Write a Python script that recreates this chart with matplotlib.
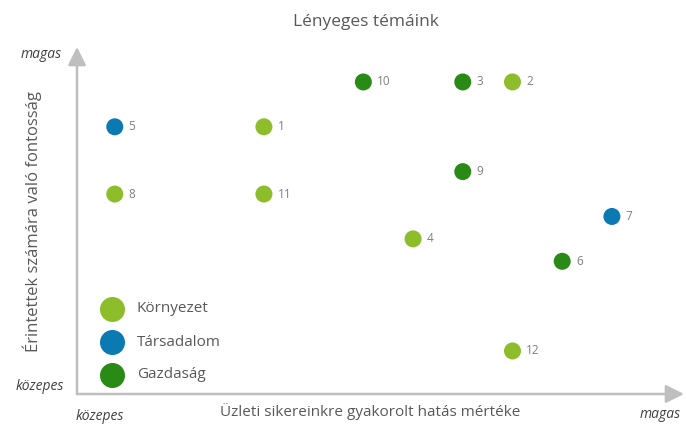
import matplotlib.pyplot as plt

# topic id, impact on business (x), importance to stakeholders (y), group
topics = ["1", "2", "3", "4", "5", "6", "7", "8", "9", "10", "11", "12"]
impact = [4, 9, 8, 7, 1, 10, 11, 1, 8, 6, 4, 9]
importance = [12, 14, 14, 7, 12, 6, 8, 9, 10, 14, 9, 2]
groups = ["Környezet", "Környezet", "Gazdaság", "Környezet", "Társadalom", "Gazdaság",
          "Társadalom", "Környezet", "Gazdaság", "Gazdaság", "Környezet", "Környezet"]

group_names = ["Környezet", "Társadalom", "Gazdaság"]
group_colors = {"Környezet": "#8DBD2A", "Társadalom": "#0B7AB3", "Gazdaság": "#2A8A16"}

W, H = 686, 425
plt.rcParams["font.family"] = ["Open Sans", "DejaVu Sans"]

fig = plt.figure(figsize=(W / 100, H / 100), dpi=100)
# plot area: from the axis origin to the arrow tips
ax = fig.add_axes([77 / W, (H - 394) / H, (684 - 77) / W, (394 - 47) / H])
ax.set_xlim(0.24, 12.45)
ax.set_ylim(0.08, 15.56)
ax.axis("off")

axis_col = "#BFBFBF"
text_col = "#595959"

# axis arrows
ax.annotate("", xy=(1, 0), xytext=(0, 0), xycoords="axes fraction",
            arrowprops=dict(arrowstyle="-|>,head_length=1.1,head_width=0.55",
                            color=axis_col, lw=1.8, shrinkA=0, shrinkB=0))
ax.annotate("", xy=(0, 1), xytext=(0, 0), xycoords="axes fraction",
            arrowprops=dict(arrowstyle="-|>,head_length=1.1,head_width=0.55",
                            color=axis_col, lw=1.8, shrinkA=0, shrinkB=0))

for t, x, y, g in zip(topics, impact, importance, groups):
    ax.scatter(x, y, s=150, color=group_colors[g], edgecolors="none", zorder=3)
    ax.annotate(t, (x, y), xytext=(10, 0), textcoords="offset points",
                va="center", ha="left", fontsize=8.5, color="#7F7F7F")

# legend drawn as big markers with labels
for i, g in enumerate(group_names):
    ly = 309 + 33 * i
    fig.add_artist(plt.Line2D([112 / W], [(H - ly) / H], marker="o", markersize=17,
                              color=group_colors[g], linestyle="none"))
    fig.text(137 / W, (H - ly) / H, g, fontsize=11, color=text_col, va="center", ha="left")

fig.text(366 / W, (H - 22) / H, "Lényeges témáink", fontsize=12.5, color=text_col,
         ha="center", va="center")
fig.text(370 / W, (H - 412) / H, "Üzleti sikereinkre gyakorolt hatás mértéke", fontsize=11,
         color=text_col, ha="center", va="center")
fig.text(32 / W, (H - 222) / H, "Érintettek számára való fontosság", fontsize=12,
         color=text_col, ha="center", va="center", rotation=90)

small = dict(fontsize=10, style="italic", color="#404040", va="center")
fig.text(62 / W, (H - 55) / H, "magas", ha="right", **small)
fig.text(64 / W, (H - 386) / H, "közepes", ha="right", **small)
fig.text(100 / W, (H - 416) / H, "közepes", ha="center", **small)
fig.text(660 / W, (H - 415) / H, "magas", ha="center", **small)

fig.savefig("out.png", dpi=100, facecolor="white")
